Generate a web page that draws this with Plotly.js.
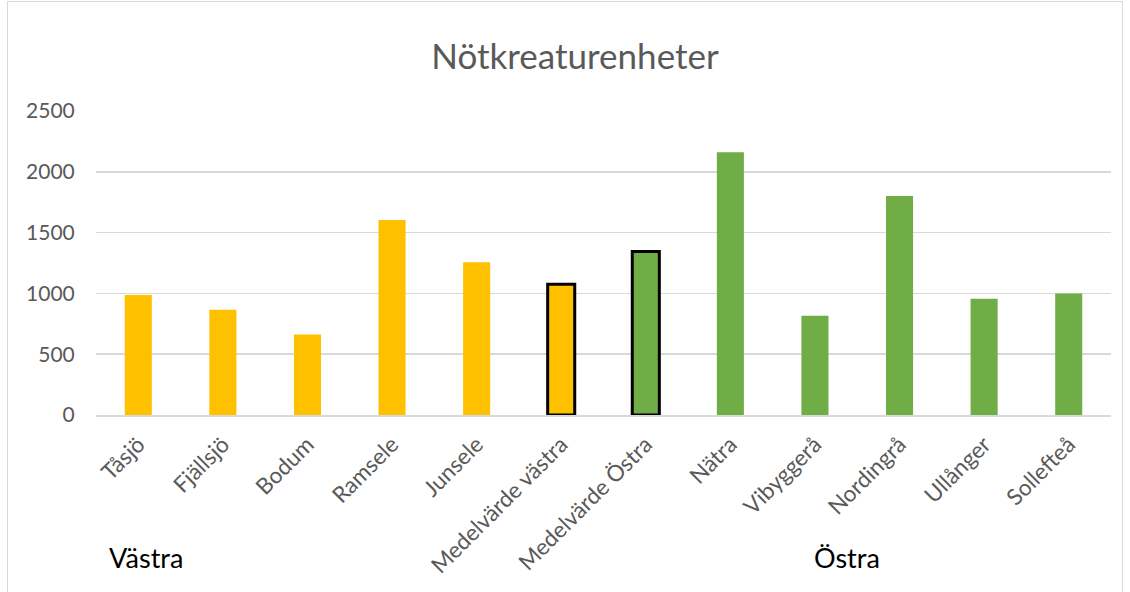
<!DOCTYPE html>
<html>
<head>
<meta charset="utf-8">
<script src="https://cdn.plot.ly/plotly-3.0.1.min.js"></script>
<style>
html,body{margin:0;padding:0;background:#fff;}
#wrap{position:relative;width:1130px;height:592px;}
#chart{width:1130px;height:592px;}
#frame{position:absolute;left:7px;top:1px;width:1114px;height:600px;border:1px solid #d9d9d9;pointer-events:none;}
</style>
</head>
<body>
<div id="wrap"><div id="chart"></div><div id="frame"></div></div>
<script>
const categories = ["Tåsjö","Fjällsjö","Bodum","Ramsele","Junsele","Medelvärde västra","Medelvärde Östra","Nätra","Vibyggerå","Nordingrå","Ullånger","Sollefteå"];
const values = [987, 866, 661, 1604, 1257, 1075, 1344, 2161, 817, 1801, 957, 1000];
const groups = ["Västra","Västra","Västra","Västra","Västra","Västra","Östra","Östra","Östra","Östra","Östra","Östra"];
const isMean = [false,false,false,false,false,true,true,false,false,false,false,false];
const groupColors = {"Västra":"#FFC000","Östra":"#70AD47"};
const yTicks = [0, 500, 1000, 1500, 2000, 2500];
const titleText = "Nötkreaturenheter";
const groupLabels = ["Västra","Östra"];

const FONT = "Lato, 'Open Sans', sans-serif";

const trace = {
  type: "bar",
  x: categories,
  y: values,
  width: 0.32,
  marker: {
    color: groups.map(g => groupColors[g]),
    line: { color: "#000000", width: isMean.map(m => m ? 3 : 0) }
  },
  hoverinfo: "x+y"
};

const layout = {
  width: 1130, height: 592,
  margin: {l: 96, r: 19, t: 111, b: 177},
  paper_bgcolor: "#ffffff",
  plot_bgcolor: "#ffffff",
  showlegend: false,
  title: {text: titleText, font: {family: FONT, size: 35, color: "#595959"}, x: 575/1130, xanchor: "center", xref: "container", y: 1 - 57/592, yanchor: "middle", yref: "container"},
  font: {family: FONT, color: "#595959"},
  xaxis: {
    type: "category",
    tickangle: -45,
    tickfont: {size: 22.5, color: "#595959"},
    showgrid: false,
    showline: true, linecolor: "#d9d9d9", linewidth: 1.5,
    ticks: "outside", ticklen: 6, tickcolor: "rgba(0,0,0,0)",
    automargin: false
  },
  yaxis: {
    range: [0, 2500],
    tickvals: yTicks,
    ticktext: yTicks.map(String),
    tickfont: {size: 21, color: "#595959"},
    showgrid: true, gridcolor: "#d9d9d9", gridwidth: 1.5,
    zeroline: false, showline: false,
    ticks: "outside", ticklen: 16, tickcolor: "rgba(0,0,0,0)",
    automargin: false
  },
  annotations: [
    {text: groupLabels[0], xref: "paper", yref: "paper", x: (107-96)/1015, y: (415-557)/304, xanchor: "left", yanchor: "middle", showarrow: false, font: {family: FONT, size: 27, color: "#000000"}},
    {text: groupLabels[1], xref: "paper", yref: "paper", x: (812-96)/1015, y: (415-557)/304, xanchor: "left", yanchor: "middle", showarrow: false, font: {family: FONT, size: 27, color: "#000000"}}
  ]
};

Plotly.newPlot("chart", [trace], layout, {displayModeBar: false, staticPlot: true});
</script>
</body>
</html>
